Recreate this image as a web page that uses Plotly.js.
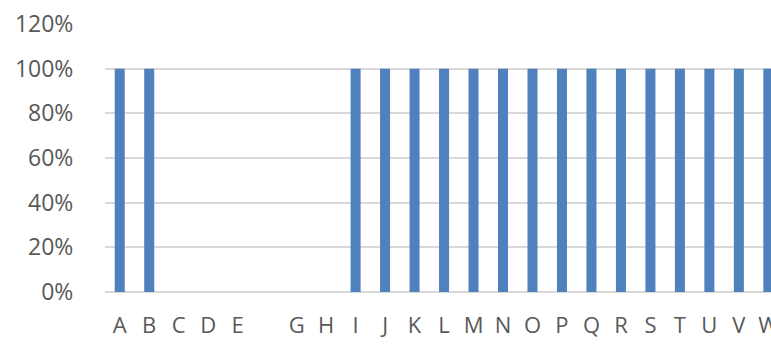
<!DOCTYPE html>
<html>
<head>
<meta charset="utf-8">
<script src="https://cdn.plot.ly/plotly-3.0.1.min.js"></script>
<style>html,body{margin:0;padding:0;background:#fff;}#chart{width:771px;height:345px;}</style>
</head>
<body>
<div id="chart"></div>
<script>
var categories = ['A','B','C','D','E',' ','G','H','I','J','K','L','M','N','O','P','Q','R','S','T','U','V','W'];
var values = [1,1,0,0,0,0,0,0,1,1,1,1,1,1,1,1,1,1,1,1,1,1,1];
var yTickVals = [0,0.2,0.4,0.6,0.8,1.0,1.2];

var trace = {
  type: 'bar',
  x: categories,
  y: values,
  marker: {color: '#4f81bd'},
  cliponaxis: true,
  hoverinfo: 'skip'
};

var layout = {
  width: 771, height: 345,
  margin: {l: 105, r: 0, t: 24, b: 53, pad: 0},
  paper_bgcolor: '#ffffff', plot_bgcolor: '#ffffff',
  showlegend: false,
  bargap: 0.66,
  font: {family: 'Open Sans, sans-serif', color: '#595959', size: 22},
  xaxis: {
    type: 'category',
    range: [-0.5, 22.09],
    showgrid: false, zeroline: false, showline: false,
    ticks: 'outside', ticklen: 14, tickcolor: 'rgba(0,0,0,0)',
    tickfont: {family: 'Open Sans, sans-serif', size: 22, color: '#595959'},
    tickangle: 0, fixedrange: true
  },
  yaxis: {
    range: [0, 1.2],
    tickvals: yTickVals,
    tickformat: '.0%',
    showgrid: true, gridcolor: '#d9d9d9', gridwidth: 2,
    zeroline: true, zerolinecolor: '#d9d9d9', zerolinewidth: 2,
    showline: false,
    ticks: 'outside', ticklen: 26, tickcolor: 'rgba(0,0,0,0)',
    tickfont: {family: 'Open Sans, sans-serif', size: 23, color: '#595959'},
    fixedrange: true
  }
};

Plotly.newPlot('chart', [trace], layout, {displayModeBar: false, staticPlot: true});
</script>
</body>
</html>
